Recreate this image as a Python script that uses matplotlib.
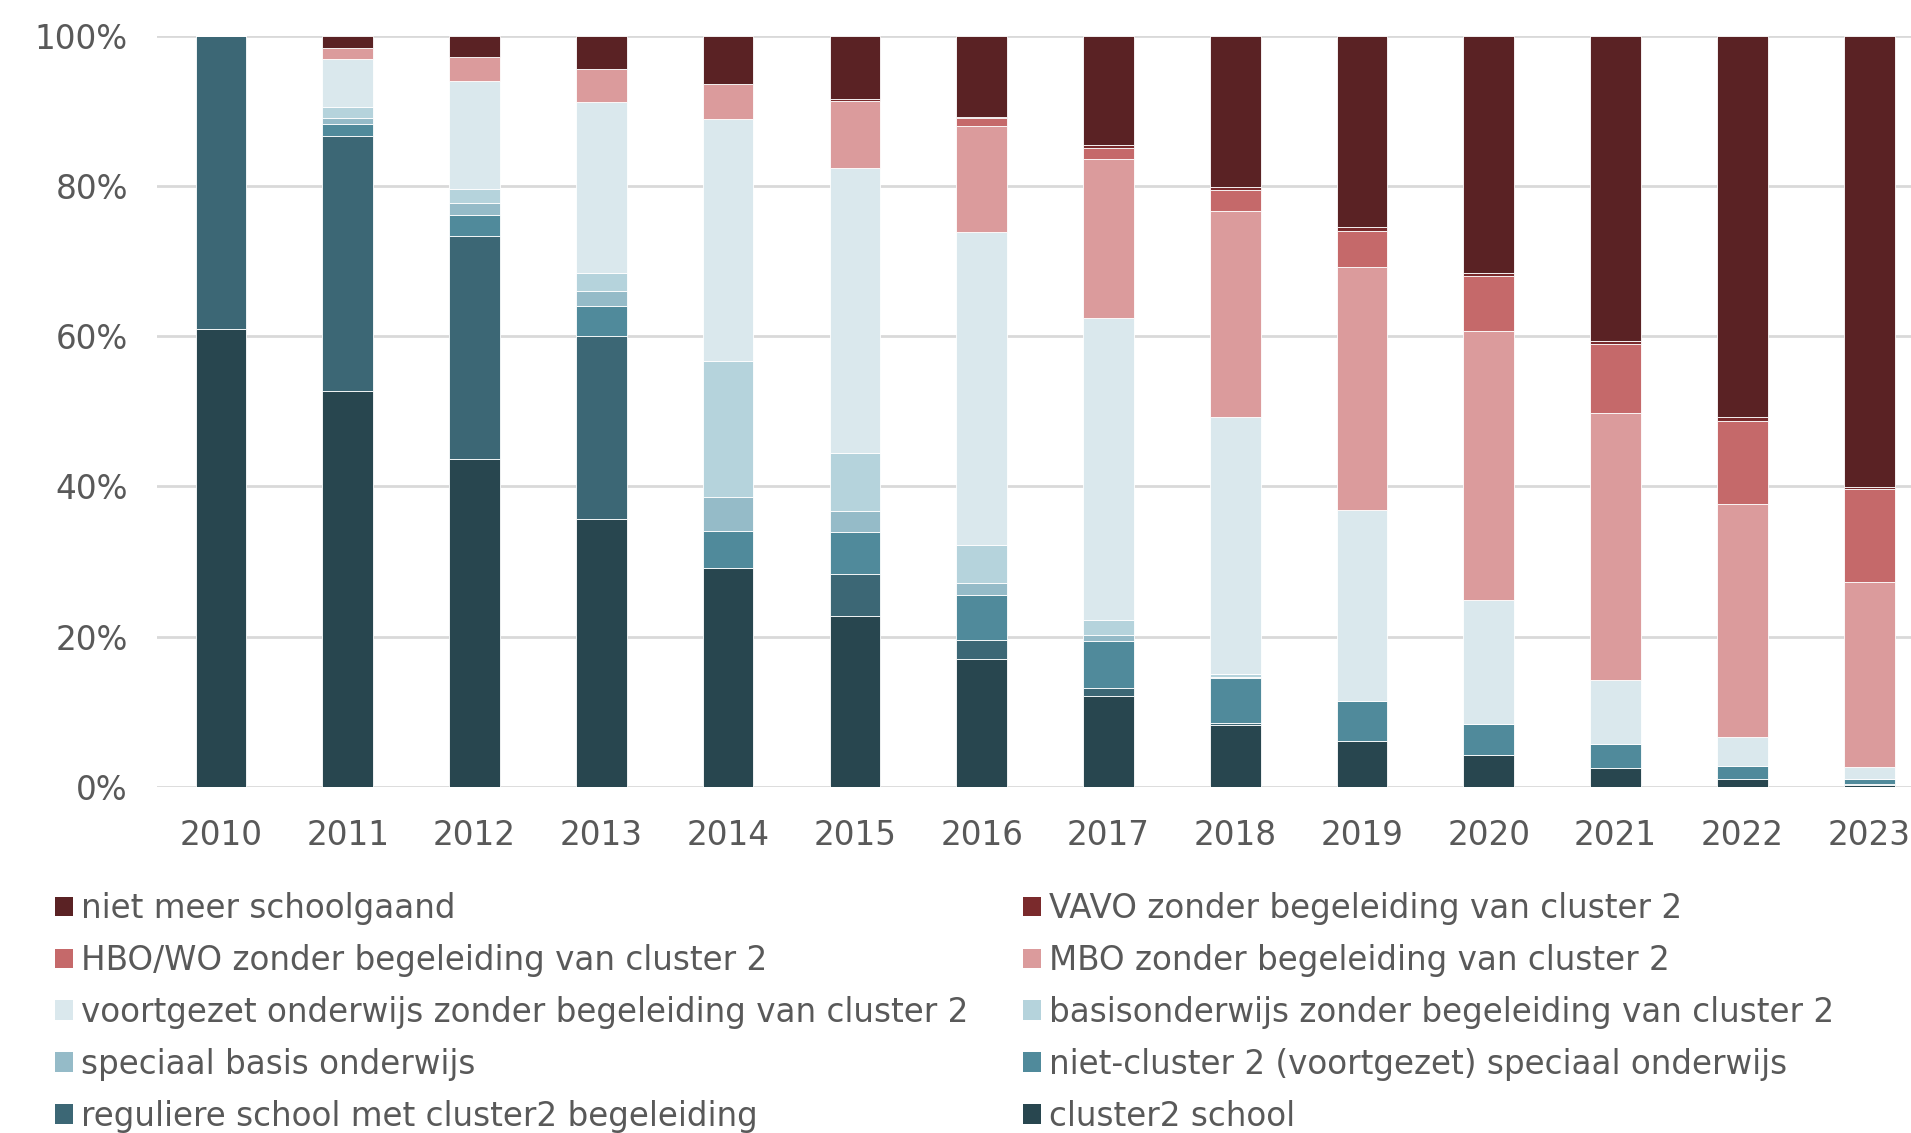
import matplotlib
matplotlib.use("Agg")
import matplotlib.pyplot as plt
from matplotlib.patches import Patch
from matplotlib.ticker import FuncFormatter
import numpy as np

years = ["2010", "2011", "2012", "2013", "2014", "2015", "2016",
         "2017", "2018", "2019", "2020", "2021", "2022", "2023"]

# values in % (bottom to top stacking)
cluster2_school = [61.0, 52.7, 43.6, 35.7, 29.2, 22.7, 17.0, 12.1, 8.2, 6.1, 4.2, 2.5, 1.0, 0.3]
regulier_met_cluster2 = [39.0, 33.9, 29.7, 24.3, 0.0, 5.6, 2.6, 1.1, 0.3, 0.0, 0.0, 0.0, 0.0, 0.1]
niet_cluster2_so = [0.0, 1.6, 2.8, 4.0, 4.9, 5.7, 5.9, 6.2, 6.0, 5.4, 4.2, 3.2, 1.8, 0.6]
speciaal_basis = [0.0, 0.8, 1.6, 2.0, 4.5, 2.7, 1.7, 0.8, 0.2, 0.0, 0.0, 0.0, 0.0, 0.0]
basisonderwijs = [0.0, 1.5, 1.9, 2.4, 18.1, 7.7, 5.0, 2.0, 0.3, 0.0, 0.0, 0.0, 0.0, 0.0]
voortgezet = [0.0, 6.4, 14.3, 22.8, 32.2, 38.0, 41.6, 40.2, 34.2, 25.3, 16.5, 8.6, 3.9, 1.6]
mbo = [0.0, 1.5, 3.2, 4.3, 4.6, 8.9, 14.2, 21.2, 27.4, 32.4, 35.8, 35.5, 31.0, 24.7]
hbo_wo = [0.0, 0.0, 0.0, 0.0, 0.0, 0.0, 1.0, 1.5, 2.9, 4.8, 7.3, 9.1, 11.0, 12.3]
vavo = [0.0, 0.0, 0.0, 0.0, 0.1, 0.2, 0.2, 0.4, 0.3, 0.5, 0.4, 0.5, 0.5, 0.3]
niet_meer = [0.0, 1.6, 2.9, 4.5, 6.4, 8.5, 10.8, 14.5, 20.2, 25.5, 31.6, 40.6, 50.8, 60.1]

labels = [
    "cluster2 school",
    "reguliere school met cluster2 begeleiding",
    "niet-cluster 2 (voortgezet) speciaal onderwijs",
    "speciaal basis onderwijs",
    "basisonderwijs zonder begeleiding van cluster 2",
    "voortgezet onderwijs zonder begeleiding van cluster 2",
    "MBO zonder begeleiding van cluster 2",
    "HBO/WO zonder begeleiding van cluster 2",
    "VAVO zonder begeleiding van cluster 2",
    "niet meer schoolgaand",
]
series = [cluster2_school, regulier_met_cluster2, niet_cluster2_so, speciaal_basis,
          basisonderwijs, voortgezet, mbo, hbo_wo, vavo, niet_meer]
colors = ["#28464f", "#3c6775", "#508a9b", "#95bbc8", "#b5d3dc",
          "#dae8ed", "#db9b9c", "#c5696a", "#7a2a2c", "#5a2224"]

plt.rcParams['font.family'] = ['DejaVu Sans']
fig = plt.figure(figsize=(19.11, 11.33), dpi=100)
ax = fig.add_axes([157 / 1911, 0.3054, 1 - 157 / 1911, 0.9686 - 0.3054])

x = np.arange(len(years))
bottom = np.zeros(len(years))
for vals, lab, col in zip(series, labels, colors):
    v = np.array(vals) / 100.0
    ax.bar(x, v, bottom=bottom, width=0.40, color=col, label=lab,
           edgecolor="white", linewidth=0.6, zorder=3)
    bottom += v

ax.set_xlim(-0.505, 13.33)
ax.set_ylim(0, 1.0)
ax.set_yticks([0, 0.2, 0.4, 0.6, 0.8, 1.0])
ax.yaxis.set_major_formatter(FuncFormatter(lambda v, p: f"{int(round(v * 100))}%"))
ax.set_xticks(x)
ax.set_xticklabels(years)
ax.grid(axis="y", color="#d9d9d9", linewidth=2, zorder=0)
ax.set_axisbelow(True)
for s in ax.spines.values():
    s.set_visible(False)
ax.tick_params(axis="both", length=0, labelsize=23.5, colors="#595959")
ax.tick_params(axis="x", pad=23)
ax.tick_params(axis="y", pad=21)

# legend: row-wise reading (reverse of stack), columns filled column-first
h = {lab: Patch(facecolor=col, edgecolor="none") for lab, col in zip(labels, colors)}
left_col = ["niet meer schoolgaand", "HBO/WO zonder begeleiding van cluster 2",
            "voortgezet onderwijs zonder begeleiding van cluster 2",
            "speciaal basis onderwijs", "reguliere school met cluster2 begeleiding"]
right_col = ["VAVO zonder begeleiding van cluster 2", "MBO zonder begeleiding van cluster 2",
             "basisonderwijs zonder begeleiding van cluster 2",
             "niet-cluster 2 (voortgezet) speciaal onderwijs", "cluster2 school"]
order = left_col + right_col
leg = fig.legend([h[o] for o in order], order, ncol=2, loc="upper left",
                 bbox_to_anchor=(55 / 1911, 1 - 892 / 1133), frameon=False,
                 fontsize=23.5, handlelength=0.55, handleheight=0.55,
                 handletextpad=0.25, labelspacing=0.58, columnspacing=1.67,
                 borderaxespad=0, borderpad=0)
for t in leg.get_texts():
    t.set_color("#595959")

fig.savefig("out.png", dpi=100)
